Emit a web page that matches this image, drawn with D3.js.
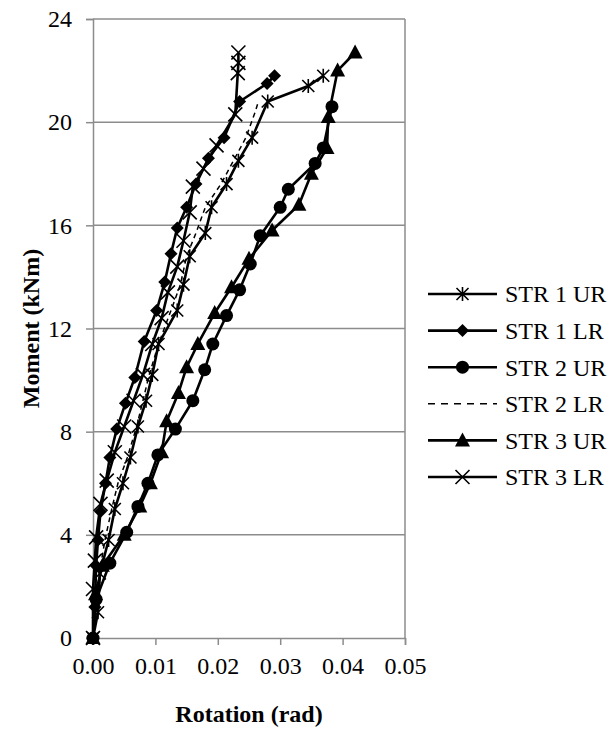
<!DOCTYPE html>
<html>
<head>
<meta charset="utf-8">
<script src="https://cdn.jsdelivr.net/npm/d3@7"></script>
<style>
  body { margin: 0; background: #fff; }
</style>
</head>
<body>
<svg id="chart" width="616" height="744"></svg>
<script>
// rotation (rad), moment (kNm)
const str1UR = [[0,0],[0.0008,1.0],[0.0011,2.5],[0.0025,3.8],[0.0035,5.0],[0.0048,6.0],[0.006,7.0],[0.0072,8.2],[0.0085,9.2],[0.0095,10.2],[0.0105,11.4],[0.0135,12.7],[0.0145,13.7],[0.0155,14.8],[0.018,15.7],[0.019,16.7],[0.0214,17.6],[0.0233,18.5],[0.0255,19.4],[0.028,20.8],[0.0345,21.4],[0.0369,21.8]];
const str1LR = [[0,0],[0.0003,1.2],[0.0005,2.8],[0.0008,3.8],[0.0012,4.9],[0.002,6.0],[0.0027,7.0],[0.0038,8.1],[0.0052,9.1],[0.0067,10.1],[0.0082,11.5],[0.0102,12.7],[0.0115,13.8],[0.0125,14.9],[0.0135,15.9],[0.015,16.7],[0.0165,17.6],[0.0185,18.6],[0.021,19.4],[0.0235,20.8],[0.0279,21.5],[0.0291,21.8]];
const str2UR = [[0,0],[0.0005,1.5],[0.0027,2.9],[0.0054,4.1],[0.0072,5.1],[0.0088,6.0],[0.0104,7.1],[0.0132,8.1],[0.016,9.2],[0.0179,10.4],[0.0192,11.4],[0.0214,12.5],[0.0235,13.5],[0.0252,14.5],[0.0268,15.6],[0.030,16.7],[0.0313,17.4],[0.0356,18.4],[0.0369,19.0],[0.0383,20.6]];
const str2LR = [[0,0],[0.0005,1.2],[0.001,2.5],[0.002,3.9],[0.003,5.0],[0.004,6.0],[0.0055,7.0],[0.007,8.2],[0.008,9.2],[0.009,10.2],[0.0105,11.4],[0.0125,12.7],[0.014,13.7],[0.015,14.8],[0.0165,15.7],[0.018,16.7],[0.0205,17.6],[0.0225,18.5],[0.0245,19.4],[0.026,20.4],[0.0265,20.8]];
const str3UR = [[0,0],[0.0004,1.7],[0.0015,2.8],[0.005,4.0],[0.0075,5.1],[0.0092,6.0],[0.011,7.2],[0.0118,8.4],[0.0137,9.5],[0.015,10.5],[0.0168,11.4],[0.0195,12.6],[0.0222,13.6],[0.025,14.7],[0.0287,15.8],[0.033,16.8],[0.035,18.0],[0.0375,19.0],[0.0377,20.2],[0.0392,22.0],[0.042,22.7]];
const str3LR = [[0,0],[0.0,1.9],[0.0003,3.0],[0.0005,3.9],[0.0012,5.2],[0.0022,6.1],[0.0035,7.2],[0.005,8.2],[0.0065,9.2],[0.008,10.2],[0.0095,11.4],[0.011,12.4],[0.012,13.4],[0.0135,14.4],[0.0145,15.4],[0.0155,16.5],[0.016,17.5],[0.0177,18.2],[0.0198,19.1],[0.0228,20.3],[0.0232,21.9],[0.0233,22.3],[0.0233,22.7]];

const seriesNames = ["STR 1 UR", "STR 1 LR", "STR 2 UR", "STR 2 LR", "STR 3 UR", "STR 3 LR"];
const seriesData = [str1UR, str1LR, str2UR, str2LR, str3UR, str3LR];
const seriesMarkers = ["asterisk", "diamond", "circle", "none", "triangle", "x"];
const xTicks = [0, 0.01, 0.02, 0.03, 0.04, 0.05];
const yTicks = [0, 4, 8, 12, 16, 20, 24];

const serif = "Liberation Serif";
const fontSize = 24;

const svg = d3.select("#chart");
const margin = {left: 93, top: 19};
const width = 312, height = 619;

const x = d3.scaleLinear().domain([0, 0.05]).range([0, width]);
const y = d3.scaleLinear().domain([0, 24]).range([height, 0]);

const g = svg.append("g")
    .attr("transform", "translate(" + margin.left + "," + margin.top + ")");

// horizontal gridlines
g.append("g")
    .selectAll("line")
    .data(yTicks.filter(d => d > 0))
    .enter()
    .append("line")
    .attr("x1", 0).attr("x2", width)
    .attr("y1", d => y(d)).attr("y2", d => y(d))
    .attr("stroke", "#8c8c8c").attr("stroke-width", 1.5);

// right edge of plot
g.append("line")
    .attr("x1", width).attr("x2", width)
    .attr("y1", 0).attr("y2", height)
    .attr("stroke", "#8c8c8c").attr("stroke-width", 1.5);

const yAxis = g.append("g")
    .call(d3.axisLeft(y).tickValues(yTicks).tickSize(7).tickPadding(14).tickFormat(d3.format("d")));
const xAxis = g.append("g")
    .attr("transform", "translate(0," + height + ")")
    .call(d3.axisBottom(x).tickValues(xTicks).tickSize(7).tickPadding(12).tickFormat(d3.format(".2f")));

[xAxis, yAxis].forEach(ax => {
    ax.attr("font-family", serif).attr("font-size", fontSize);
    ax.select(".domain").attr("stroke", "#8c8c8c").attr("stroke-width", 1.5);
    ax.selectAll(".tick line").attr("stroke", "#8c8c8c").attr("stroke-width", 1.5);
    ax.selectAll("text").attr("fill", "#000");
});

const line = d3.line().x(d => x(d[0])).y(d => y(d[1]));

function drawMarker(sel, type) {
    if (type === "circle") {
        sel.append("circle").attr("r", 6.5).attr("fill", "#000");
    } else if (type === "diamond") {
        sel.append("path").attr("d", "M0,-6.5L6.5,0L0,6.5L-6.5,0Z").attr("fill", "#000");
    } else if (type === "triangle") {
        sel.append("path").attr("d", "M0,-8L7.5,6L-7.5,6Z").attr("fill", "#000");
    } else if (type === "x") {
        sel.append("path").attr("d", "M-7,-7L7,7M-7,7L7,-7")
            .attr("stroke", "#000").attr("stroke-width", 1.6).attr("fill", "none");
    } else if (type === "asterisk") {
        sel.append("path").attr("d", "M-6,-6L6,6M-6,6L6,-6M0,-7L0,7")
            .attr("stroke", "#000").attr("stroke-width", 1.6).attr("fill", "none");
    }
}

seriesData.forEach((data, i) => {
    const sg = g.append("g");
    sg.append("path")
        .datum(data)
        .attr("d", line)
        .attr("fill", "none")
        .attr("stroke", "#000")
        .attr("stroke-width", i === 3 ? 1.5 : 2.6)
        .attr("stroke-dasharray", i === 3 ? "5,4" : null)
        .attr("stroke-linejoin", "round");
    if (seriesMarkers[i] !== "none") {
        sg.selectAll("g.m")
            .data(data)
            .enter()
            .append("g")
            .attr("class", "m")
            .attr("transform", d => "translate(" + x(d[0]) + "," + y(d[1]) + ")")
            .each(function () { drawMarker(d3.select(this), seriesMarkers[i]); });
    }
});

// legend
const legend = svg.append("g").attr("transform", "translate(428,294)");
seriesNames.forEach((name, i) => {
    const lg = legend.append("g").attr("transform", "translate(0," + (i * 36.6) + ")");
    lg.append("line")
        .attr("x1", 0).attr("x2", 69)
        .attr("stroke", "#000")
        .attr("stroke-width", i === 3 ? 1.5 : 2.6)
        .attr("stroke-dasharray", i === 3 ? "7,6" : null);
    if (seriesMarkers[i] !== "none") {
        drawMarker(lg.append("g").attr("transform", "translate(34.5,0)"), seriesMarkers[i]);
    }
    lg.append("text")
        .attr("x", 77).attr("y", 0)
        .attr("dy", "0.35em")
        .attr("font-family", serif)
        .attr("font-size", fontSize)
        .text(name);
});

// axis titles
svg.append("text")
    .attr("x", margin.left + width / 2).attr("y", 722)
    .attr("text-anchor", "middle")
    .attr("font-family", serif)
    .attr("font-size", fontSize).attr("font-weight", "bold")
    .text("Rotation (rad)");

svg.append("text")
    .attr("transform", "translate(39," + (margin.top + height / 2) + ")rotate(-90)")
    .attr("text-anchor", "middle")
    .attr("font-family", serif)
    .attr("font-size", fontSize).attr("font-weight", "bold")
    .text("Moment (kNm)");
</script>
</body>
</html>
